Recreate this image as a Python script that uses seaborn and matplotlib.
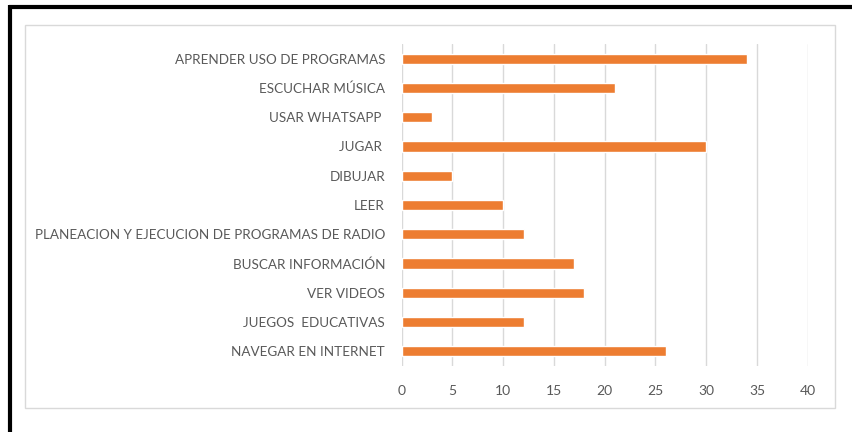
import matplotlib
matplotlib.use("Agg")
import matplotlib.pyplot as plt
from matplotlib.patches import Rectangle
from matplotlib.lines import Line2D
import seaborn as sns
import pandas as pd

categories = [
    "APRENDER USO DE PROGRAMAS",
    "ESCUCHAR MÚSICA",
    "USAR WHATSAPP ",
    "JUGAR ",
    "DIBUJAR",
    "LEER",
    "PLANEACION Y EJECUCION DE PROGRAMAS DE RADIO",
    "BUSCAR INFORMACIÓN",
    "VER VIDEOS",
    "JUEGOS  EDUCATIVAS",
    "NAVEGAR EN INTERNET",
]
values = [34, 21, 3, 30, 5, 10, 12, 17, 18, 12, 26]
x_ticks = [0, 5, 10, 15, 20, 25, 30, 35, 40]

df = pd.DataFrame({"cat": categories, "val": values})

sns.set_style("white")
plt.rcParams["font.family"] = ["Lato", "DejaVu Sans"]

W, H = 853, 432
fig = plt.figure(figsize=(W / 100, H / 100), dpi=100)
fig.patch.set_facecolor("white")

ax = fig.add_axes([401.7 / W, (H - 366) / H, (807.7 - 401.7) / W, (366 - 44) / H])
sns.barplot(data=df, x="val", y="cat", color="#ED7D31", width=0.35, ax=ax,
            saturation=1, orient="h")
ax.set_xlim(0, 40)
ax.set_xticks(x_ticks)
ax.set_xlabel("")
ax.set_ylabel("")
ax.grid(axis="x", color="#D9D9D9", linewidth=1)
ax.set_axisbelow(True)
for s in ax.spines.values():
    s.set_visible(False)
ax.tick_params(axis="both", length=0, labelcolor="#595959", labelsize=10)
ax.tick_params(axis="y", labelsize=9.7, pad=12)
ax.tick_params(axis="x", pad=14)

# inner chart-area frame
fig.add_artist(Rectangle((25 / W, (H - 408) / H), 810 / W, 383 / H,
                         transform=fig.transFigure, fill=False,
                         edgecolor="#D9D9D9", linewidth=1))
# outer black frame (left and top)
fig.add_artist(Line2D([10 / W, 10 / W], [0, (H - 5) / H], transform=fig.transFigure,
                      color="black", linewidth=3, solid_capstyle="butt"))
fig.add_artist(Line2D([8.5 / W, 1], [(H - 6.5) / H, (H - 6.5) / H], transform=fig.transFigure,
                      color="black", linewidth=3, solid_capstyle="butt"))

fig.savefig("out.png", dpi=100)
